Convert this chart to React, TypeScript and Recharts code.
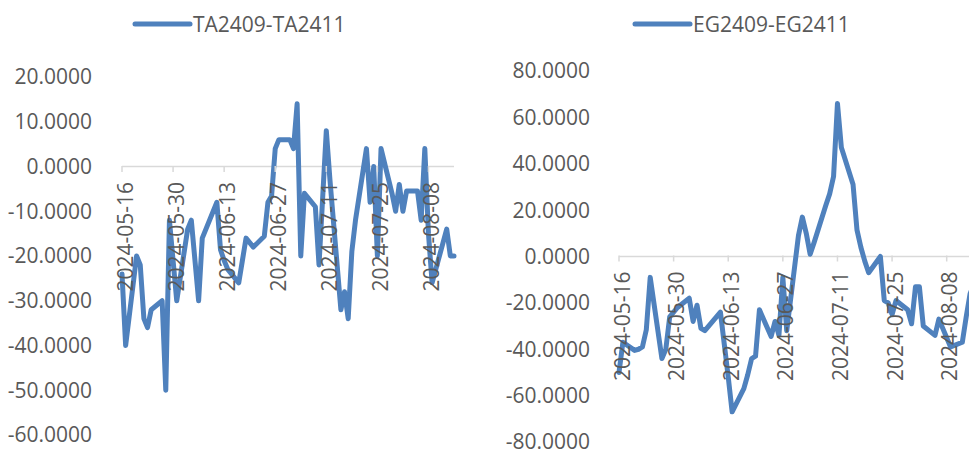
import React from "react";
import { LineChart, Line, XAxis, YAxis, ReferenceLine } from "recharts";

// trading days shown on both charts
const DATES = [
  "2024-05-16", "2024-05-17", "2024-05-20", "2024-05-21", "2024-05-22", "2024-05-23", "2024-05-24",
  "2024-05-27", "2024-05-28", "2024-05-29", "2024-05-30", "2024-05-31",
  "2024-06-03", "2024-06-04", "2024-06-05", "2024-06-06", "2024-06-07",
  "2024-06-11", "2024-06-12", "2024-06-13", "2024-06-14",
  "2024-06-17", "2024-06-18", "2024-06-19", "2024-06-20", "2024-06-21",
  "2024-06-24", "2024-06-25", "2024-06-26", "2024-06-27", "2024-06-28",
  "2024-07-01", "2024-07-02", "2024-07-03", "2024-07-04", "2024-07-05",
  "2024-07-08", "2024-07-09", "2024-07-10", "2024-07-11", "2024-07-12",
  "2024-07-15", "2024-07-16", "2024-07-17", "2024-07-18", "2024-07-19",
  "2024-07-22", "2024-07-23", "2024-07-24", "2024-07-25", "2024-07-26",
  "2024-07-29", "2024-07-30", "2024-07-31", "2024-08-01", "2024-08-02",
  "2024-08-05", "2024-08-06", "2024-08-07", "2024-08-08", "2024-08-09",
  "2024-08-12", "2024-08-13", "2024-08-14", "2024-08-15",
];

const TA_SPREAD = [
  -24, -40, -20, -22, -34, -36, -32,
  -30, -50, -12, -21, -30,
  -14, -12, -21, -30, -16,
  -8, -18.6, -21, -23,
  -26, -21, -16, -17, -18,
  -15.6, -8, -6.6, 4, 6,
  6, 4, 14, -20, -6,
  -9, -22, -7, 8, -3,
  -32, -28, -34, -19, -12,
  4, -8, 0, -20, 4,
  -6, -10, -4, -10, -5.5,
  -5.5, -12, 4, -15, -26,
  -17, -14, -20, -20,
];

const EG_SPREAD = [
  -50, -37, -40.5, -40, -39, -31.6, -9,
  -44, -40, -26, -24, -22,
  -18, -28, -21, -31, -32,
  -24, -38, -52, -67,
  -57, -51, -44, -43, -23,
  -34.5, -28, -34, -9, -32,
  9, 17, 10, 1, 6,
  22, 27, 34.5, 66, 47,
  31, 11.5, 4, -2, -7,
  0, -19, -20, -25, -19,
  -23, -29, -13, -13, -30,
  -34, -27, -31, -35, -39,
  -37, -26, -16, -12,
];

const X_TICK_DATES = ["2024-05-16", "2024-05-30", "2024-06-13", "2024-06-27", "2024-07-11", "2024-07-25", "2024-08-08"];
const TA_TICKS = [-60, -50, -40, -30, -20, -10, 0, 10, 20];
const EG_TICKS = [-80, -60, -40, -20, 0, 20, 40, 60, 80];

const BLUE = "#4F81BD";
const GREY = "#595959";
const AXIS = "#D9D9D9";
const FONT = "'Open Sans', sans-serif";
const DAY = 86400000;
const T0 = Date.parse(DATES[0]);

const dayOf = (d: string) => Math.round((Date.parse(d) - T0) / DAY);
const dateOf = (day: number) => new Date(T0 + day * DAY).toISOString().slice(0, 10);
const lastDay = dayOf(DATES[DATES.length - 1]);

const taData = DATES.map((d, i) => ({ day: dayOf(d), value: TA_SPREAD[i] }));
const egData = DATES.map((d, i) => ({ day: dayOf(d), value: EG_SPREAD[i] }));
const xTicks = X_TICK_DATES.map(dayOf);

// date labels hang under the zero line, rotated
const makeDateTick = (zeroY: number) => (props: any) => {
  const { x, payload } = props;
  return (
    <g>
      <line x1={x} x2={x} y1={zeroY} y2={zeroY + 6} stroke={AXIS} strokeWidth={1.5} />
      <text
        transform={`translate(${x + 3},${zeroY + 16}) rotate(-90)`}
        textAnchor="end"
        dy="0.36em"
        fill={GREY}
        fontSize={21}
        fontFamily={FONT}
      >
        {dateOf(payload.value)}
      </text>
    </g>
  );
};

interface SpreadProps {
  data: { day: number; value: number }[];
  ticks: number[];
  width: number;
  margin: { top: number; right: number; bottom: number; left: number };
  labelGap: number;
}

function SpreadChart({ data, ticks, width, margin, labelGap }: SpreadProps) {
  const height = 450;
  const min = ticks[0];
  const max = ticks[ticks.length - 1];
  const plotH = height - margin.top - margin.bottom - 2;
  const zeroY = margin.top + (plotH * max) / (max - min);
  return (
    <LineChart width={width} height={height} data={data} margin={{ ...margin, bottom: margin.bottom - 2 }}>
      <XAxis
        dataKey="day"
        type="number"
        domain={[0, lastDay]}
        ticks={xTicks}
        height={2}
        axisLine={false}
        tickLine={false}
        tick={makeDateTick(zeroY)}
        interval={0}
      />
      <YAxis
        type="number"
        domain={[min, max]}
        ticks={ticks}
        width={110}
        axisLine={false}
        tickLine={false}
        tickSize={0}
        tickMargin={labelGap}
        interval={0}
        tickFormatter={(v: number) => v.toFixed(4)}
        tick={{ fill: GREY, fontSize: 21, fontFamily: FONT }}
      />
      <ReferenceLine y={0} stroke={AXIS} strokeWidth={1.5} />
      <Line
        type="linear"
        dataKey="value"
        stroke={BLUE}
        strokeWidth={5}
        strokeLinejoin="round"
        strokeLinecap="round"
        dot={false}
        activeDot={false}
        isAnimationActive={false}
      />
    </LineChart>
  );
}

function LegendItem({ x, label }: { x: number; label: string }) {
  return (
    <g>
      <line x1={x} x2={x + 55} y1={24} y2={24} stroke={BLUE} strokeWidth={5} strokeLinecap="round" />
      <text x={x + 58} y={32} fill={GREY} fontSize={21} fontFamily={FONT}>
        {label}
      </text>
    </g>
  );
}

export default function App() {
  return (
    <div
      style={{
        position: "absolute",
        left: 0,
        top: 0,
        width: 969,
        height: 450,
        overflow: "hidden",
        background: "#fff",
        fontFamily: FONT,
      }}
    >
      <div style={{ position: "absolute", left: 0, top: 0 }}>
        <SpreadChart
          data={taData}
          ticks={TA_TICKS}
          width={480}
          margin={{ top: 77, right: 26, bottom: 15, left: 12 }}
          labelGap={30}
        />
      </div>
      <div style={{ position: "absolute", left: 480, top: 0 }}>
        <SpreadChart
          data={egData}
          ticks={EG_TICKS}
          width={525}
          margin={{ top: 71, right: 31, bottom: 8, left: 29 }}
          labelGap={29}
        />
      </div>
      <svg width={969} height={50} style={{ position: "absolute", left: 0, top: 0 }}>
        <LegendItem x={135} label="TA2409-TA2411" />
        <LegendItem x={635} label="EG2409-EG2411" />
      </svg>
    </div>
  );
}
